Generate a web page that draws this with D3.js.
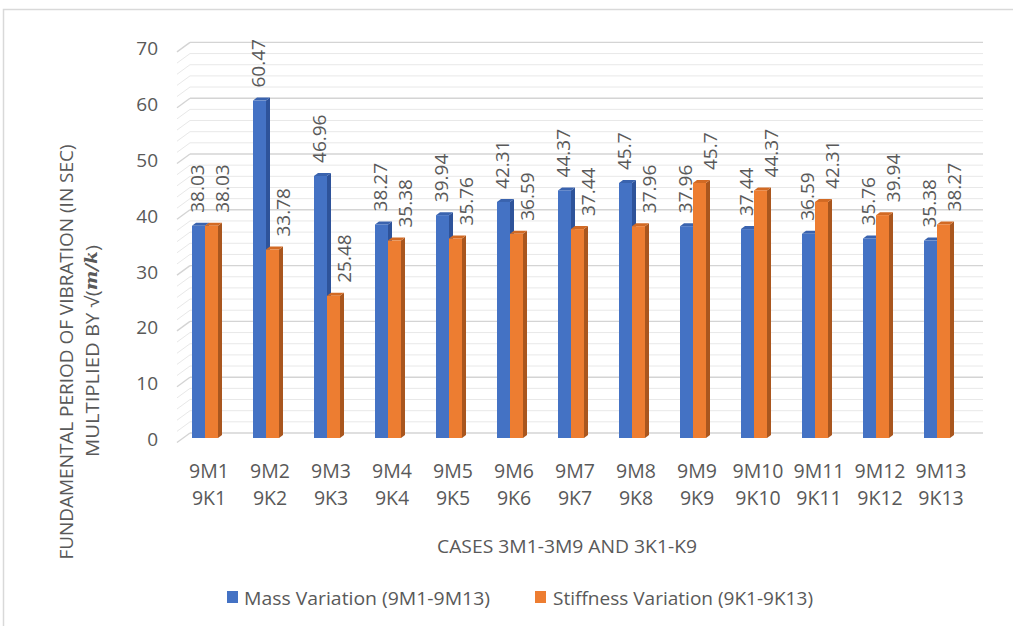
<!DOCTYPE html>
<html>
<head>
<meta charset="utf-8">
<script src="https://cdn.jsdelivr.net/npm/d3@7"></script>
<style>
  html, body { margin: 0; padding: 0; background: #fff; }
  svg { display: block; }
  text { font-family: "Open Sans", sans-serif; fill: #595959; }
</style>
</head>
<body>
<svg id="chart" width="1013" height="626"></svg>
<script>
const massCats = ["9M1","9M2","9M3","9M4","9M5","9M6","9M7","9M8","9M9","9M10","9M11","9M12","9M13"];
const stiffCats = ["9K1","9K2","9K3","9K4","9K5","9K6","9K7","9K8","9K9","9K10","9K11","9K12","9K13"];
const massValues = [38.03, 60.47, 46.96, 38.27, 39.94, 42.31, 44.37, 45.7, 37.96, 37.44, 36.59, 35.76, 35.38];
const stiffValues = [38.03, 33.78, 25.48, 35.38, 35.76, 36.59, 37.44, 37.96, 45.7, 44.37, 42.31, 39.94, 38.27];
const yTicks = [0, 10, 20, 30, 40, 50, 60, 70];
const seriesNames = ["Mass Variation (9M1-9M13)", "Stiffness Variation (9K1-9K13)"];
const xTitle = "CASES 3M1-3M9 AND 3K1-K9";
const yTitle1 = "FUNDAMENTAL PERIOD OF VIBRATION (IN SEC)";

const svg = d3.select("#chart");

// outer frame
svg.append("rect").attr("x", 3.5).attr("y", 9.5).attr("width", 1030).attr("height", 640)
  .attr("fill", "#fff").attr("stroke", "#d9d9d9").attr("stroke-width", 1.5);

const y = d3.scaleLinear().domain([0, 70]).range([438, 47.4]);
const x = d3.scaleBand().domain(massCats.map((d, i) => i)).range([177, 970]).paddingInner(0).paddingOuter(0);

const depthX = 13, depthY = -9.5;     // wall depth
const frontOff = 4.5;                 // front edge offset from bar base plane
const barW = 13, bdx = 4, bdy = 3;    // bar width and bar 3D depth
const barOff = 15;

// gridlines (minor every 2, major every 10)
const gridVals = d3.range(0, 70.01, 2);
const grid = svg.append("g");
gridVals.forEach(v => {
  const major = v % 10 === 0;
  const col = major ? "#d4d4d4" : "#e8e8e8";
  const sw = major ? 1.4 : 1;
  const yf = y(v) + frontOff, yb = y(v) + frontOff + depthY;
  grid.append("line").attr("x1", 177).attr("y1", yf).attr("x2", 177 + depthX).attr("y2", yb)
    .attr("stroke", col).attr("stroke-width", sw);
  grid.append("line").attr("x1", 177 + depthX).attr("y1", yb).attr("x2", 983).attr("y2", yb)
    .attr("stroke", col).attr("stroke-width", sw);
});

// y tick labels
svg.append("g").selectAll("text").data(yTicks).join("text")
  .attr("x", 158).attr("y", d => y(d) + 1)
  .attr("text-anchor", "end").attr("dominant-baseline", "central")
  .attr("font-size", 19).text(d => d);

function drawBar(g, x0, v, front, side, top) {
  const yt = y(v), yb = y(0);
  g.append("path").attr("d", `M${x0 + barW},${yt} L${x0 + barW + bdx},${yt - bdy} L${x0 + barW + bdx},${yb - bdy} L${x0 + barW},${yb} Z`).attr("fill", side);
  g.append("path").attr("d", `M${x0},${yt} L${x0 + bdx},${yt - bdy} L${x0 + barW + bdx},${yt - bdy} L${x0 + barW},${yt} Z`).attr("fill", top);
  g.append("rect").attr("x", x0).attr("y", yt).attr("width", barW).attr("height", yb - yt).attr("fill", front);
}

const bars = svg.append("g");
massValues.forEach((v, i) => {
  const x0 = x(i) + barOff;
  drawBar(bars, x0, v, "#4472C4", "#2E539A", "#3A63AE");
  drawBar(bars, x0 + barW, stiffValues[i], "#ED7D31", "#A9561E", "#D26A24");
});

// data labels (rotated)
const labels = svg.append("g");
massValues.forEach((v, i) => {
  const cx = x(i) + barOff + 5;
  labels.append("text").attr("transform", `translate(${cx},${y(v) - 13}) rotate(-90)`)
    .attr("dominant-baseline", "central").attr("font-size", 19).text(v);
  const v2 = stiffValues[i];
  const cx2 = x(i) + barOff + barW + 17;
  labels.append("text").attr("transform", `translate(${cx2},${y(v2) - 13}) rotate(-90)`)
    .attr("dominant-baseline", "central").attr("font-size", 19).text(v2);
});

// category labels
const cat = svg.append("g");
massCats.forEach((c, i) => {
  const cx = x(i) + 32;
  cat.append("text").attr("x", cx).attr("y", 470).attr("text-anchor", "middle")
    .attr("dominant-baseline", "central").attr("font-size", 19.5).text(c);
  cat.append("text").attr("x", cx).attr("y", 497).attr("text-anchor", "middle")
    .attr("dominant-baseline", "central").attr("font-size", 19.5).text(stiffCats[i]);
});

// x title
svg.append("text").attr("x", 567).attr("y", 545).attr("text-anchor", "middle")
  .attr("dominant-baseline", "central").attr("font-size", 18.5)
  .attr("textLength", 260).attr("lengthAdjust", "spacingAndGlyphs").text(xTitle);

// y title
svg.append("text").attr("transform", "translate(65,352) rotate(-90)")
  .attr("text-anchor", "middle").attr("dominant-baseline", "central").attr("font-size", 18.5)
  .attr("textLength", 415).attr("lengthAdjust", "spacingAndGlyphs").text(yTitle1);
const t2 = svg.append("text").attr("transform", "translate(91,351) rotate(-90)")
  .attr("text-anchor", "middle").attr("dominant-baseline", "central").attr("font-size", 18.5)
  .attr("textLength", 212).attr("lengthAdjust", "spacingAndGlyphs");
t2.append("tspan").text("MULTIPLIED BY √(");
t2.append("tspan").attr("font-family", "'DejaVu Serif', serif").attr("font-style", "italic").attr("font-weight", "bold").attr("font-size", 17).text("m/k");
t2.append("tspan").text(")");

// legend
const legendItems = [
  { name: seriesNames[0], color: "#4472C4", sx: 227, tx: 244, w: 246 },
  { name: seriesNames[1], color: "#ED7D31", sx: 535, tx: 553, w: 260 }
];
const lg = svg.append("g");
legendItems.forEach(d => {
  lg.append("rect").attr("x", d.sx).attr("y", 591).attr("width", 11).attr("height", 12).attr("fill", d.color);
  lg.append("text").attr("x", d.tx).attr("y", 597).attr("dominant-baseline", "central")
    .attr("font-size", 18.5).attr("textLength", d.w).attr("lengthAdjust", "spacingAndGlyphs").text(d.name);
});
</script>
</body>
</html>
